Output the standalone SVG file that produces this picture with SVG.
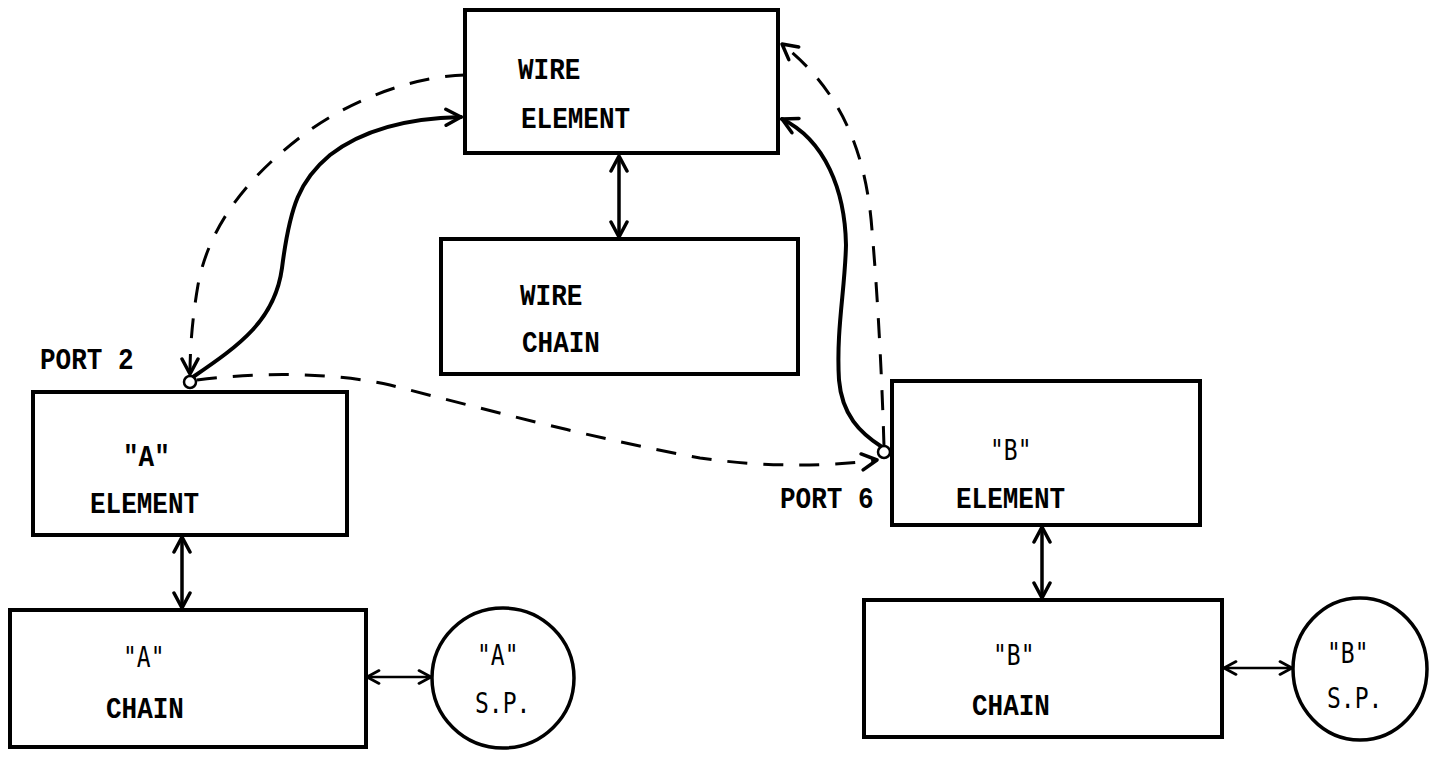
<svg xmlns="http://www.w3.org/2000/svg" width="1443" height="761" viewBox="0 0 1443 761">
  <style>
    .box{fill:#fff;stroke:#000;stroke-width:4}
    .sp{fill:#fff;stroke:#000;stroke-width:3.5}
    .port{fill:#fff;stroke:#000;stroke-width:2.5}
    .lbl{font-family:"Liberation Mono","Courier New",monospace;font-weight:bold;font-size:26px;fill:#000}
    .thin{font-family:"DejaVu Sans Mono","Liberation Mono",monospace;font-size:23px;fill:#000}
    .solid{fill:none;stroke:#000;stroke-width:4;stroke-linecap:round}
    .link{fill:none;stroke:#000;stroke-width:3.5}
    .small{fill:none;stroke:#000;stroke-width:2.5}
    .dash{fill:none;stroke:#000;stroke-width:3;stroke-dasharray:20 16}
  </style>
  <defs>
    <marker id="arr" viewBox="0 0 20 20" markerWidth="20" markerHeight="20" refX="18" refY="10" markerUnits="userSpaceOnUse" orient="auto-start-reverse">
      <path d="M3,2 L18,10 L3,18" fill="none" stroke="#000" stroke-width="3.5" stroke-linecap="round" stroke-linejoin="round"/>
    </marker>
    <marker id="arrs" viewBox="0 0 20 20" markerWidth="16" markerHeight="16" refX="18" refY="10" markerUnits="userSpaceOnUse" orient="auto-start-reverse">
      <path d="M3,2 L18,10 L3,18" fill="none" stroke="#000" stroke-width="3.5" stroke-linecap="round" stroke-linejoin="round"/>
    </marker>
  </defs>

  <rect width="1443" height="761" fill="#fff"/>

  <!-- connectors -->
  <g id="connectors">
    <path class="solid" d="M193,377 C240,345 275,320 282,268 C290,205 300,180 330,155 C365,128 410,118 461,117" marker-end="url(#arr)"/>
    <path class="dash" d="M465,75 C420,76 360,95 310,130 C255,170 210,220 198,285 C192,320 190,350 190,374" marker-end="url(#arr)"/>
    <path class="dash" d="M197,380 C260,372 330,372 390,385 C480,408 600,440 700,458 C770,468 830,466 877,460" marker-end="url(#arr)"/>
    <path class="solid" d="M882,447 C860,433 842,415 839,380 C836,330 845,290 846,245 C845,190 825,140 782,119" marker-end="url(#arr)"/>
    <path class="dash" d="M884,446 C882,380 878,300 872,230 C866,150 840,90 782,44" marker-end="url(#arr)"/>
    <path class="link" d="M619,156 L619,237" marker-start="url(#arr)" marker-end="url(#arr)"/>
    <path class="link" d="M182,537 L182,608" marker-start="url(#arr)" marker-end="url(#arr)"/>
    <path class="link" d="M1042,527 L1042,598" marker-start="url(#arr)" marker-end="url(#arr)"/>
    <path class="small" d="M367,677 L431,677" marker-start="url(#arrs)" marker-end="url(#arrs)"/>
    <path class="small" d="M1224,668 L1292,668" marker-start="url(#arrs)" marker-end="url(#arrs)"/>
  </g>

  <!-- wire element -->
  <g id="wire-element">
    <rect class="box" x="465" y="10" width="313" height="143"/>
    <text class="lbl" transform="translate(518,79) scale(1,1.15)">WIRE</text>
    <text class="lbl" transform="translate(521,128) scale(1,1.15)">ELEMENT</text>
  </g>

  <!-- wire chain -->
  <g id="wire-chain">
    <rect class="box" x="441" y="239" width="357" height="135"/>
    <text class="lbl" transform="translate(520,305) scale(1,1.15)">WIRE</text>
    <text class="lbl" transform="translate(522,352) scale(1,1.15)">CHAIN</text>
  </g>

  <!-- A element with port 2 -->
  <g id="a-element">
    <rect class="box" x="33" y="392" width="314" height="143"/>
    <text class="lbl" transform="translate(123,466) scale(1,1.15)">"A"</text>
    <text class="lbl" transform="translate(90,513) scale(1,1.15)">ELEMENT</text>
  </g>
  <g id="port-2">
    <circle class="port" cx="190" cy="382" r="6"/>
    <text class="lbl" transform="translate(40,369) scale(1,1.15)">PORT 2</text>
  </g>

  <!-- A chain -->
  <g id="a-chain">
    <rect class="box" x="10" y="610" width="356" height="137"/>
    <text class="thin" transform="translate(123,667) scale(1,1.2)">"A"</text>
    <text class="lbl" transform="translate(106,718) scale(1,1.15)">CHAIN</text>
  </g>

  <!-- A S.P. -->
  <g id="a-sp">
    <ellipse class="sp" cx="503" cy="678" rx="71" ry="70"/>
    <text class="thin" transform="translate(477,665) scale(1,1.2)">"A"</text>
    <text class="thin" transform="translate(475,713) scale(1,1.2)">S.P.</text>
  </g>

  <!-- B element with port 6 -->
  <g id="b-element">
    <rect class="box" x="892" y="381" width="308" height="144"/>
    <text class="thin" transform="translate(990,460) scale(1,1.2)">"B"</text>
    <text class="lbl" transform="translate(956,508) scale(1,1.15)">ELEMENT</text>
  </g>
  <g id="port-6">
    <circle class="port" cx="884" cy="452" r="6"/>
    <text class="lbl" transform="translate(780,508) scale(1,1.15)">PORT 6</text>
  </g>

  <!-- B chain -->
  <g id="b-chain">
    <rect class="box" x="864" y="600" width="358" height="137"/>
    <text class="thin" transform="translate(993,665) scale(1,1.2)">"B"</text>
    <text class="lbl" transform="translate(972,715) scale(1,1.15)">CHAIN</text>
  </g>

  <!-- B S.P. -->
  <g id="b-sp">
    <ellipse class="sp" cx="1360" cy="669" rx="67" ry="71"/>
    <text class="thin" transform="translate(1327,663) scale(1,1.2)">"B"</text>
    <text class="thin" transform="translate(1327,708) scale(1,1.2)">S.P.</text>
  </g>
</svg>
